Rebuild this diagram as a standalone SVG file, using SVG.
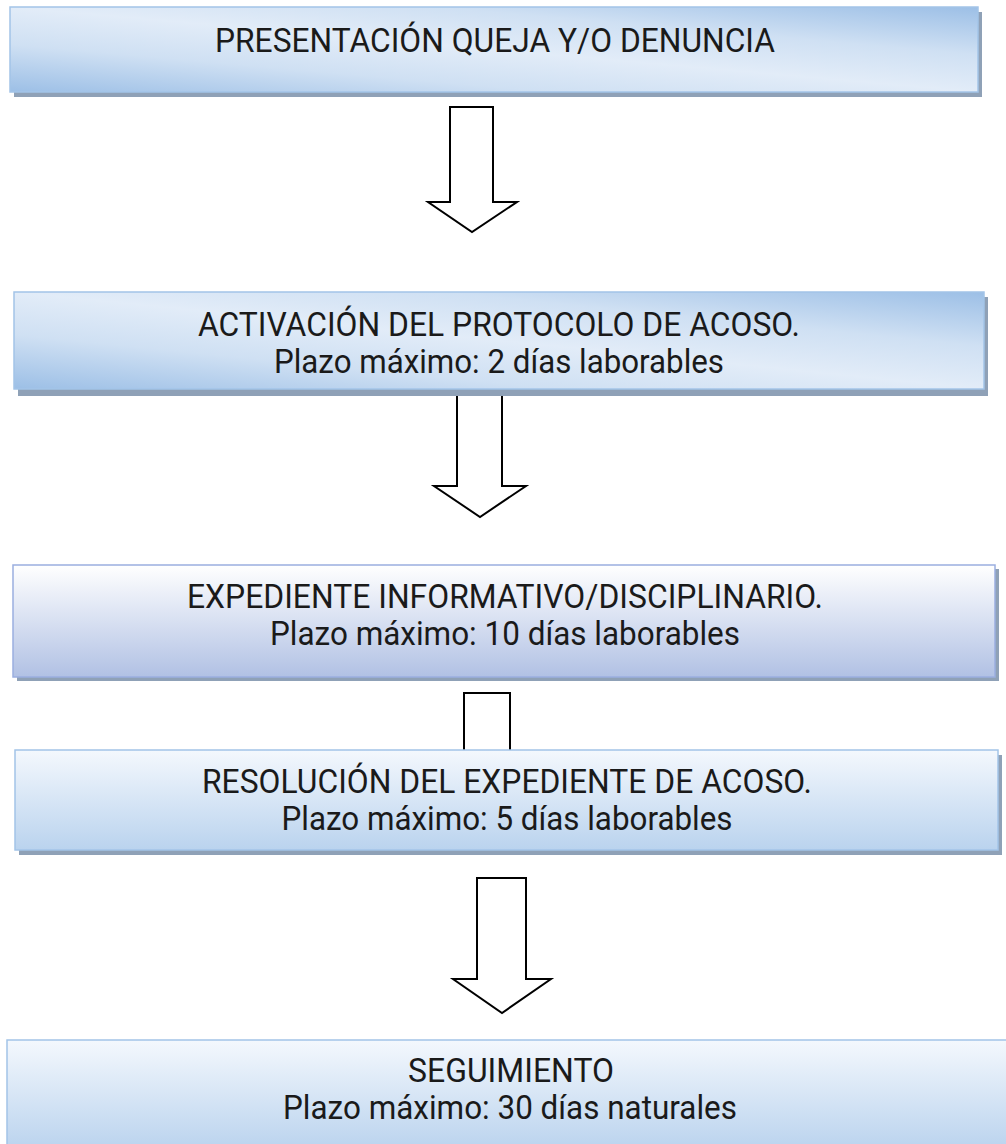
<svg xmlns="http://www.w3.org/2000/svg" width="1006" height="1144" viewBox="0 0 1006 1144">
  <defs>
    <linearGradient id="gDiag" x1="0" y1="1" x2="1" y2="0">
      <stop offset="0" stop-color="#9cbfe6"/>
      <stop offset="0.28" stop-color="#cfe0f3"/>
      <stop offset="0.5" stop-color="#e2ecf8"/>
      <stop offset="0.72" stop-color="#cfe0f3"/>
      <stop offset="1" stop-color="#9cbfe6"/>
    </linearGradient>
    <linearGradient id="gLav" x1="0" y1="0" x2="0" y2="1">
      <stop offset="0" stop-color="#ffffff"/>
      <stop offset="1" stop-color="#b1c1e4"/>
    </linearGradient>
    <linearGradient id="gBlue" x1="0" y1="0" x2="0" y2="1">
      <stop offset="0" stop-color="#f4f8fd"/>
      <stop offset="1" stop-color="#bad3ee"/>
    </linearGradient>
    <style>
      .shadow { fill: #8fa1b7; }
      .b1 { fill: url(#gDiag); stroke: #a3c4e8; stroke-width: 1.5; }
      .b3 { fill: url(#gLav); stroke: #9baee0; stroke-width: 1.5; }
      .b4 { fill: url(#gBlue); stroke: #a3c4e8; stroke-width: 1.5; }
      .arrow { fill: #ffffff; stroke: #000000; stroke-width: 2; stroke-linejoin: miter; }
      text { font-family: Roboto, "Liberation Sans", sans-serif; font-size: 33px; fill: #1a1a1a; text-anchor: middle; }
    </style>
  </defs>

  <g id="connectors">
    <polygon class="arrow" points="450,107 493,107 493,202 517,202 472,232 428,202 450,202"/>
    <polygon class="arrow" points="457,389 502,389 502,486 526,486 480,517 434,486 457,486"/>
    <polygon class="arrow" points="464,693 510,693 510,790 534,790 487,820 441,790 464,790"/>
    <polygon class="arrow" points="477,878 526,878 526,979 551,979 502,1013 453,979 477,979"/>
  </g>

  <g id="node1">
    <rect class="shadow" x="14" y="12" width="968" height="85"/>
    <rect class="b1" x="10" y="7" width="968" height="85"/>
    <text x="495" y="52" textLength="560" lengthAdjust="spacingAndGlyphs">PRESENTACIÓN QUEJA Y/O DENUNCIA</text>
  </g>

  <g id="node2">
    <rect class="shadow" x="18" y="297" width="970" height="99"/>
    <rect class="b1" x="14" y="292" width="970" height="97"/>
    <text x="499" y="336" textLength="602" lengthAdjust="spacingAndGlyphs">ACTIVACIÓN DEL PROTOCOLO DE ACOSO.</text>
    <text x="499" y="373" textLength="450" lengthAdjust="spacingAndGlyphs">Plazo máximo: 2 días laborables</text>
  </g>

  <g id="node3">
    <rect class="shadow" x="17" y="569" width="982" height="112"/>
    <rect class="b3" x="13" y="565" width="982" height="112"/>
    <text x="505" y="608" textLength="636" lengthAdjust="spacingAndGlyphs">EXPEDIENTE INFORMATIVO/DISCIPLINARIO.</text>
    <text x="505" y="645" textLength="470" lengthAdjust="spacingAndGlyphs">Plazo máximo: 10 días laborables</text>
  </g>

  <g id="node4">
    <rect class="shadow" x="19" y="755" width="983" height="100"/>
    <rect class="b4" x="15" y="750" width="983" height="100"/>
    <text x="507" y="793" textLength="610" lengthAdjust="spacingAndGlyphs">RESOLUCIÓN DEL EXPEDIENTE DE ACOSO.</text>
    <text x="507" y="830" textLength="451" lengthAdjust="spacingAndGlyphs">Plazo máximo: 5 días laborables</text>
  </g>

  <g id="node5">
    <rect class="b4" x="7" y="1040" width="1005" height="110"/>
    <text x="511" y="1082" textLength="206" lengthAdjust="spacingAndGlyphs">SEGUIMIENTO</text>
    <text x="510" y="1119" textLength="454" lengthAdjust="spacingAndGlyphs">Plazo máximo: 30 días naturales</text>
  </g>
</svg>
